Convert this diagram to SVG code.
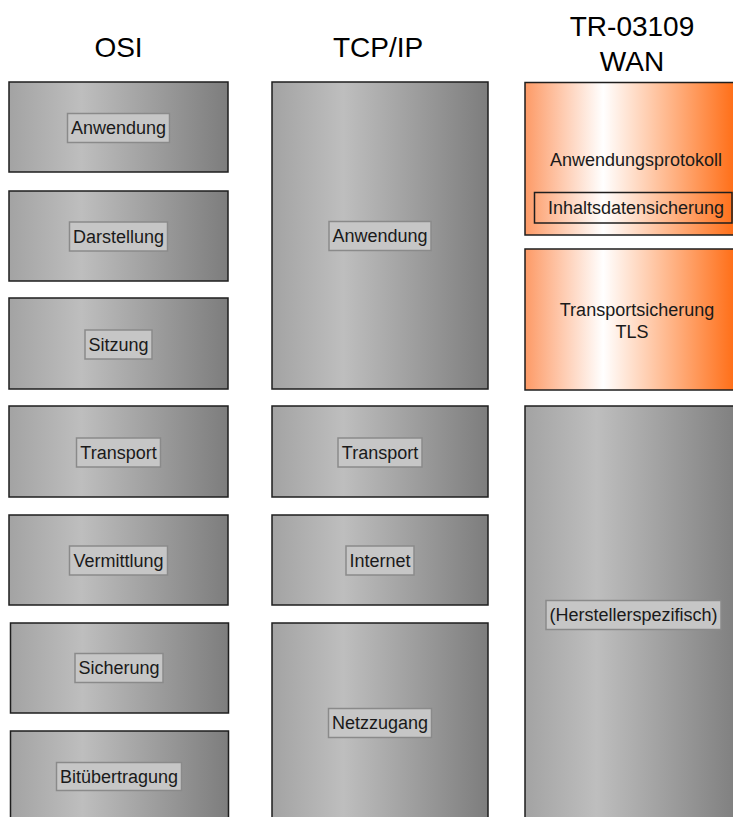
<svg xmlns="http://www.w3.org/2000/svg" width="733" height="817" viewBox="0 0 733 817">
<defs>
<linearGradient id="grey" x1="0" y1="0" x2="1" y2="0">
<stop offset="0" stop-color="#a3a3a3"/>
<stop offset="0.33" stop-color="#bebebe"/>
<stop offset="1" stop-color="#7d7d7d"/>
</linearGradient>
<linearGradient id="orange" x1="0" y1="0" x2="1" y2="0">
<stop offset="0" stop-color="#fd9a66"/>
<stop offset="0.36" stop-color="#ffffff"/>
<stop offset="1" stop-color="#ff660a"/>
</linearGradient>
</defs>
<style>
text{font-family:"Liberation Sans",Arial,sans-serif;fill:#1a1a1a;text-anchor:middle}
.title{font-size:28px;fill:#000}
.lbl{font-size:18px}
.g{fill:url(#grey);stroke:#1e1e1e;stroke-width:1.5}
.o{fill:url(#orange);stroke:#1e1e1e;stroke-width:1.5}
.lb{fill:#c6c6c6;stroke:#8a8a8a;stroke-width:1.5}
.ib{fill:none;stroke:#1e1e1e;stroke-width:1.5}
</style>
<rect width="733" height="817" fill="#fff"/>
<g id="titles">
<text class="title" x="118.5" y="57">OSI</text>
<text class="title" x="378" y="57">TCP/IP</text>
<text class="title" x="632" y="36">TR-03109</text>
<text class="title" x="632" y="71">WAN</text>
</g>
<g id="osi-anwendung"><rect class="g" x="9" y="82" width="219" height="90"/><rect class="lb" x="67.5" y="113.5" width="102" height="29"/><text class="lbl" x="118.5" y="134">Anwendung</text></g>
<g id="osi-darstellung"><rect class="g" x="9" y="191" width="219" height="90"/><rect class="lb" x="69.5" y="222" width="98" height="29"/><text class="lbl" x="118.5" y="242.5">Darstellung</text></g>
<g id="osi-sitzung"><rect class="g" x="9" y="298" width="219" height="91"/><rect class="lb" x="85" y="330" width="67" height="29"/><text class="lbl" x="118.5" y="350.5">Sitzung</text></g>
<g id="osi-transport"><rect class="g" x="9" y="406" width="219" height="91"/><rect class="lb" x="76.5" y="438" width="84" height="29"/><text class="lbl" x="118.5" y="458.5">Transport</text></g>
<g id="osi-vermittlung"><rect class="g" x="9" y="515" width="219" height="90"/><rect class="lb" x="69.5" y="546" width="98" height="29"/><text class="lbl" x="118.5" y="566.5">Vermittlung</text></g>
<g id="osi-sicherung"><rect class="g" x="10.5" y="623" width="218" height="90"/><rect class="lb" x="75" y="653.5" width="88" height="29"/><text class="lbl" x="119" y="674">Sicherung</text></g>
<g id="osi-bituebertragung"><rect class="g" x="10.5" y="731" width="218" height="92"/><rect class="lb" x="56.5" y="762.5" width="125" height="28"/><text class="lbl" x="119" y="782.5">Bitübertragung</text></g>
<g id="tcp-anwendung"><rect class="g" x="272" y="82" width="216" height="307"/><rect class="lb" x="329" y="221.5" width="102" height="29"/><text class="lbl" x="380" y="242">Anwendung</text></g>
<g id="tcp-transport"><rect class="g" x="272" y="406" width="216" height="91"/><rect class="lb" x="338" y="438" width="84" height="29"/><text class="lbl" x="380" y="458.5">Transport</text></g>
<g id="tcp-internet"><rect class="g" x="272" y="515" width="216" height="90"/><rect class="lb" x="346" y="546" width="68" height="29"/><text class="lbl" x="380" y="566.5">Internet</text></g>
<g id="tcp-netzzugang"><rect class="g" x="272" y="623" width="216" height="200"/><rect class="lb" x="328.5" y="708.5" width="103" height="29"/><text class="lbl" x="380" y="729">Netzzugang</text></g>
<g id="tr-anwendungsprotokoll"><rect class="o" x="525" y="82.5" width="217" height="152.5"/><text class="lbl" x="636" y="166">Anwendungsprotokoll</text><rect class="ib" x="534.5" y="192.5" width="197.5" height="30.5"/><text class="lbl" x="636" y="213.5">Inhaltsdatensicherung</text></g>
<g id="tr-transportsicherung"><rect class="o" x="525" y="249" width="217" height="141"/><text class="lbl" x="637" y="316">Transportsicherung</text><text class="lbl" x="632" y="338">TLS</text></g>
<g id="tr-herstellerspezifisch"><rect class="g" x="525" y="406" width="217" height="418"/><rect class="lb" x="546" y="600.5" width="175" height="29"/><text class="lbl" x="633.5" y="621">(Herstellerspezifisch)</text></g>
<g id="connectors"/>
</svg>
